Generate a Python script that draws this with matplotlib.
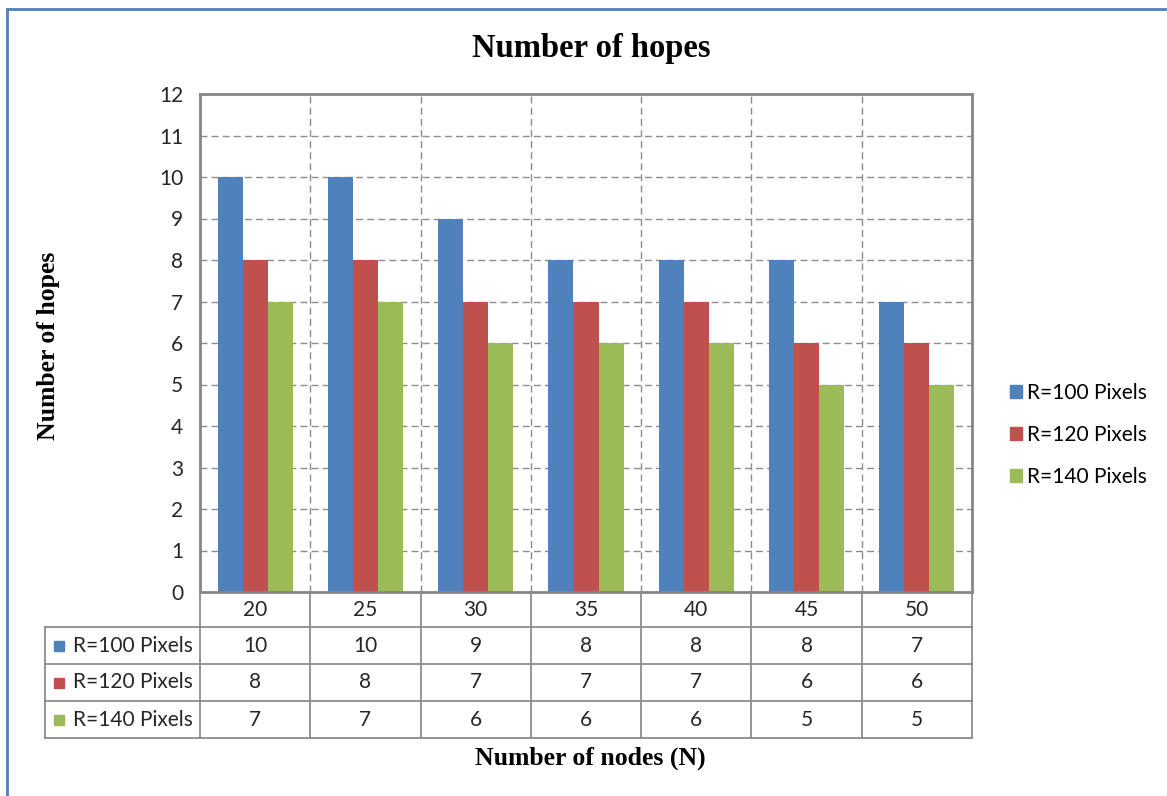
import matplotlib
matplotlib.use("Agg")
import matplotlib.pyplot as plt
from matplotlib.patches import Rectangle
from matplotlib.lines import Line2D
import numpy as np

# Data
nodes = ["20", "25", "30", "35", "40", "45", "50"]
series_names = ["R=100 Pixels", "R=120 Pixels", "R=140 Pixels"]
r100 = [10, 10, 9, 8, 8, 8, 7]
r120 = [8, 8, 7, 7, 7, 6, 6]
r140 = [7, 7, 6, 6, 6, 5, 5]
y_ticks = list(range(0, 13))

series = [r100, r120, r140]
colors = ["#4F81BD", "#C0504D", "#9BBB59"]
grid_color = "#8C8C8C"
frame_color = "#868686"
text_color = "#262626"
sans = ["Lato", "DejaVu Sans"]
serif = ["Liberation Serif", "DejaVu Serif"]
fs = 15

W, H = 1167, 796
fig = plt.figure(figsize=(W / 100, H / 100), dpi=100)
fig.patch.set_facecolor("white")


def fx(px):
    return px / W


def fy(py):
    return 1 - py / H


# Main plot area
ax = fig.add_axes([fx(200), fy(592), fx(972 - 200), (592 - 94) / H])
x = np.arange(len(nodes))
bw = 0.227
for i, (vals, c) in enumerate(zip(series, colors)):
    ax.bar(x + (i - 1) * bw, vals, width=bw, color=c, zorder=3, label=series_names[i])

ax.set_xlim(-0.5, len(nodes) - 0.5)
ax.set_ylim(0, 12)
ax.set_yticks(y_ticks)
ax.set_yticklabels([str(t) for t in y_ticks], fontfamily=sans, fontsize=fs, color=text_color)
ax.set_xticks([])
ax.tick_params(axis="y", length=0, pad=12)
for t in y_ticks[1:-1]:
    ax.axhline(t, color=grid_color, lw=1.0, ls=(0, (5, 3)), zorder=1)
for b in np.arange(0.5, len(nodes) - 0.5, 1.0):
    ax.axvline(b, color=grid_color, lw=1.0, ls=(0, (5, 3)), zorder=1)
for s in ax.spines.values():
    s.set_color(frame_color)
    s.set_linewidth(2.0)
    s.set_zorder(4)

# Data table under the plot
tax = fig.add_axes([fx(45), fy(738), fx(972 - 45), (738 - 592) / H])
lab_w = 155 / ((972 - 200) / len(nodes))
tax.set_xlim(-0.5 - lab_w, len(nodes) - 0.5)
tax.set_ylim(146, 0)
tax.axis("off")
row_edges = [0, 35, 72, 109, 146]
lc = "#8C8C8C"
lw = 1.3
for r in row_edges[1:]:
    tax.plot([-0.5 - lab_w, len(nodes) - 0.5], [r, r], color=lc, lw=lw, clip_on=False)
for b in np.arange(-0.5, len(nodes) + 0.5, 1.0):
    tax.plot([b, b], [0, 146], color=lc, lw=lw, clip_on=False)
tax.plot([-0.5 - lab_w] * 2, [row_edges[1], 146], color=lc, lw=lw, clip_on=False)

# header row
for xi, n in zip(x, nodes):
    tax.text(xi, (row_edges[0] + row_edges[1]) / 2 + 1, n, ha="center", va="center",
             fontfamily=sans, fontsize=fs, color=text_color)
# value rows
for ri, (name, vals, c) in enumerate(zip(series_names, series, colors)):
    yc = (row_edges[ri + 1] + row_edges[ri + 2]) / 2
    tax.plot([-0.5 - lab_w + 0.13], [yc], marker="s", ms=7.5, color=c, clip_on=False)
    tax.text(-0.5 - lab_w + 0.25, yc, name, ha="left", va="center",
             fontfamily=sans, fontsize=fs, color=text_color)
    for xi, v in zip(x, vals):
        tax.text(xi, yc, str(v), ha="center", va="center",
                 fontfamily=sans, fontsize=fs, color=text_color)

# Legend
handles = [Rectangle((0, 0), 1, 1, color=c) for c in colors]
fig.legend(handles, series_names, loc="center left", bbox_to_anchor=(fx(1000), fy(435)),
           frameon=False, handlelength=0.55, handleheight=0.55, handletextpad=0.25,
           labelspacing=1.05, borderpad=0, prop={"family": sans, "size": fs})

# Titles
fig.text(fx(591), fy(49), "Number of hopes", ha="center", va="center",
         fontfamily=serif, fontweight="bold", fontsize=23.5)
fig.text(fx(49), fy(346), "Number of hopes", ha="center", va="center", rotation=90,
         fontfamily=serif, fontweight="bold", fontsize=18.5)
fig.text(fx(590), fy(758), "Number of nodes (N)", ha="center", va="center",
         fontfamily=serif, fontweight="bold", fontsize=18.5)

# Outer frame
fig.add_artist(Line2D([fx(7), fx(7)], [fy(9), 0], color="#4F81BD", lw=2.0))
fig.add_artist(Line2D([fx(7), 1], [fy(9), fy(9)], color="#4F81BD", lw=2.0))

fig.savefig("out.png", dpi=100, facecolor="white")
